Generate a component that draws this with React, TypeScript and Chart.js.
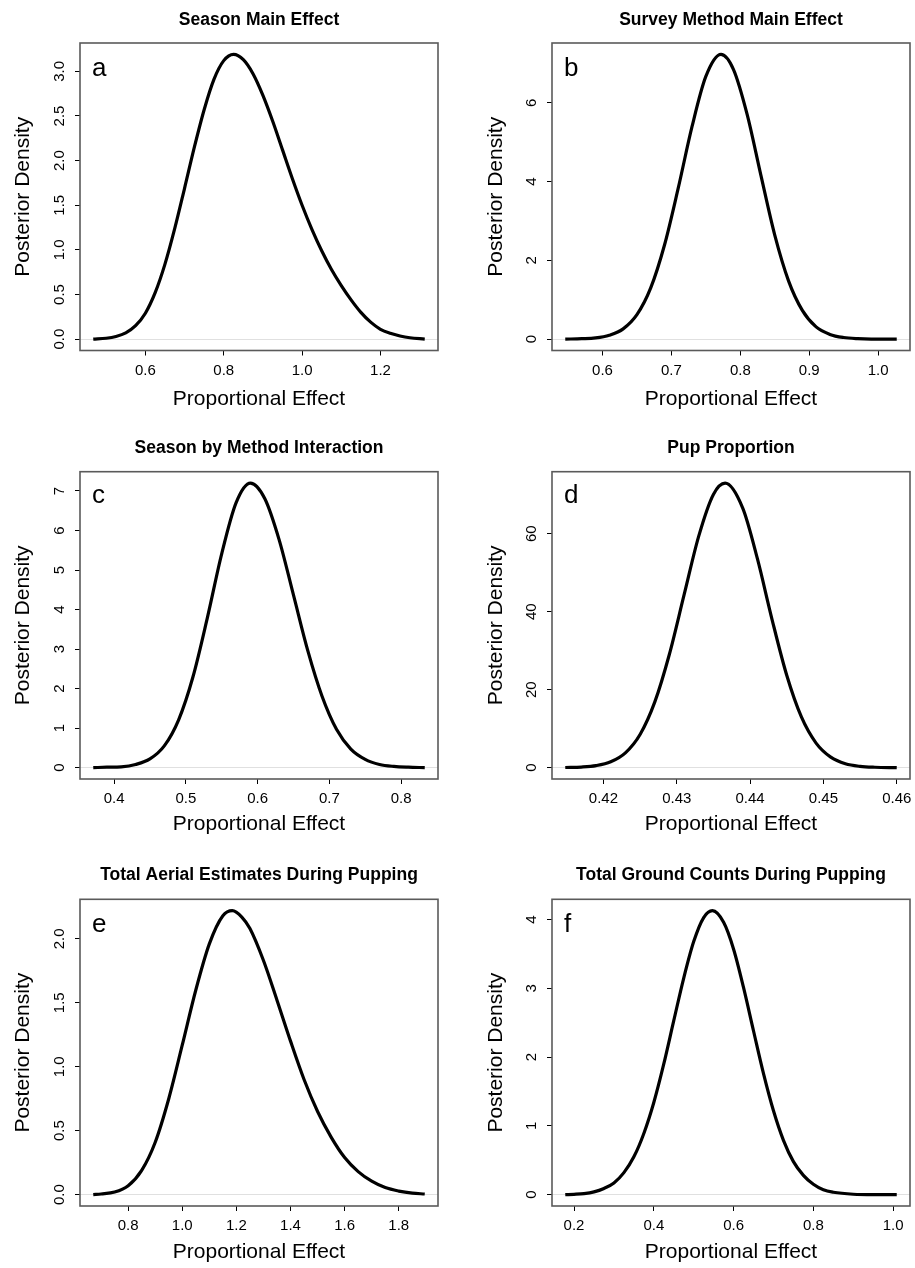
import React, { useEffect, useRef } from "react";
import { Chart, registerables } from "chart.js";

Chart.register(...registerables);

const FONT = '"Liberation Sans", Arial, Helvetica, sans-serif';

// ---------- Data ----------
const titles = [
  "Season Main Effect",
  "Survey Method Main Effect",
  "Season by Method Interaction",
  "Pup Proportion",
  "Total Aerial Estimates During Pupping",
  "Total Ground Counts During Pupping",
];
const panelLetters = ["a", "b", "c", "d", "e", "f"];
const xAxisTitle = "Proportional Effect";
const yAxisTitle = "Posterior Density";

// a: Season Main Effect
const aX = [0.467, 0.5, 0.525, 0.55, 0.575, 0.6, 0.625, 0.65, 0.675, 0.7, 0.725, 0.75, 0.775, 0.8, 0.825, 0.85, 0.875, 0.9, 0.925, 0.95, 0.975, 1.0, 1.025, 1.05, 1.075, 1.1, 1.125, 1.15, 1.175, 1.2, 1.225, 1.25, 1.275, 1.313];
const aY = [0.0, 0.01, 0.03, 0.07, 0.15, 0.29, 0.52, 0.84, 1.24, 1.69, 2.15, 2.57, 2.91, 3.12, 3.19, 3.13, 2.97, 2.73, 2.44, 2.12, 1.8, 1.5, 1.23, 0.99, 0.78, 0.6, 0.44, 0.3, 0.19, 0.11, 0.065, 0.035, 0.015, 0.0];
const aXTicks = [0.6, 0.8, 1.0, 1.2];
const aXLabels = ["0.6", "0.8", "1.0", "1.2"];
const aYTicks = [0, 0.5, 1.0, 1.5, 2.0, 2.5, 3.0];
const aYLabels = ["0.0", "0.5", "1.0", "1.5", "2.0", "2.5", "3.0"];

// b: Survey Method Main Effect
const bX = [0.546, 0.57, 0.59, 0.61, 0.63, 0.65, 0.67, 0.69, 0.71, 0.73, 0.75, 0.772, 0.79, 0.81, 0.83, 0.85, 0.87, 0.89, 0.91, 0.93, 0.95, 0.97, 0.99, 1.027];
const bY = [0.0, 0.01, 0.03, 0.1, 0.26, 0.62, 1.3, 2.39, 3.84, 5.4, 6.67, 7.23, 6.85, 5.7, 4.15, 2.64, 1.48, 0.73, 0.31, 0.12, 0.04, 0.01, 0.0, 0.0];
const bXTicks = [0.6, 0.7, 0.8, 0.9, 1.0];
const bXLabels = ["0.6", "0.7", "0.8", "0.9", "1.0"];
const bYTicks = [0, 2, 4, 6];
const bYLabels = ["0", "2", "4", "6"];

// c: Season by Method Interaction
const cX = [0.371, 0.39, 0.41, 0.43, 0.45, 0.47, 0.49, 0.51, 0.53, 0.55, 0.57, 0.59, 0.61, 0.63, 0.65, 0.67, 0.69, 0.71, 0.73, 0.75, 0.77, 0.79, 0.81, 0.833];
const cY = [0.0, 0.01, 0.02, 0.08, 0.22, 0.55, 1.21, 2.3, 3.79, 5.41, 6.7, 7.2, 6.81, 5.77, 4.37, 2.96, 1.8, 0.97, 0.47, 0.21, 0.08, 0.03, 0.01, 0.0];
const cXTicks = [0.4, 0.5, 0.6, 0.7, 0.8];
const cXLabels = ["0.4", "0.5", "0.6", "0.7", "0.8"];
const cYTicks = [0, 1, 2, 3, 4, 5, 6, 7];
const cYLabels = ["0", "1", "2", "3", "4", "5", "6", "7"];

// d: Pup Proportion
const dX = [0.4148, 0.417, 0.419, 0.421, 0.423, 0.425, 0.427, 0.429, 0.431, 0.433, 0.435, 0.4366, 0.439, 0.441, 0.443, 0.445, 0.447, 0.449, 0.451, 0.453, 0.455, 0.457, 0.46];
const dY = [0.04, 0.16, 0.52, 1.5, 3.8, 8.5, 16.8, 29.1, 44.3, 59.4, 70.1, 73.0, 66.6, 53.6, 38.0, 23.7, 13.0, 6.3, 2.7, 1.0, 0.33, 0.1, 0.01];
const dXTicks = [0.42, 0.43, 0.44, 0.45, 0.46];
const dXLabels = ["0.42", "0.43", "0.44", "0.45", "0.46"];
const dYTicks = [0, 20, 40, 60];
const dYLabels = ["0", "20", "40", "60"];

// e: Total Aerial Estimates During Pupping
const eX = [0.671, 0.7, 0.75, 0.8, 0.85, 0.9, 0.95, 1.0, 1.05, 1.1, 1.15, 1.185, 1.22, 1.25, 1.3, 1.35, 1.4, 1.45, 1.5, 1.55, 1.6, 1.65, 1.7, 1.75, 1.8, 1.85, 1.896];
const eY = [0.0, 0.005, 0.02, 0.07, 0.19, 0.41, 0.75, 1.17, 1.6, 1.96, 2.18, 2.22, 2.17, 2.08, 1.83, 1.52, 1.2, 0.9, 0.65, 0.45, 0.29, 0.18, 0.105, 0.055, 0.028, 0.012, 0.005];
const eXTicks = [0.8, 1.0, 1.2, 1.4, 1.6, 1.8];
const eXLabels = ["0.8", "1.0", "1.2", "1.4", "1.6", "1.8"];
const eYTicks = [0, 0.5, 1.0, 1.5, 2.0];
const eYLabels = ["0.0", "0.5", "1.0", "1.5", "2.0"];

// f: Total Ground Counts During Pupping
const fX = [0.178, 0.2, 0.225, 0.25, 0.275, 0.3, 0.325, 0.35, 0.375, 0.4, 0.425, 0.45, 0.475, 0.5, 0.525, 0.547, 0.575, 0.6, 0.625, 0.65, 0.675, 0.7, 0.725, 0.75, 0.775, 0.8, 0.825, 0.85, 0.9, 0.95, 1.009];
const fY = [0.0, 0.005, 0.015, 0.04, 0.09, 0.17, 0.32, 0.55, 0.89, 1.34, 1.9, 2.53, 3.15, 3.68, 4.03, 4.13, 3.96, 3.57, 3.01, 2.38, 1.76, 1.22, 0.79, 0.48, 0.28, 0.15, 0.07, 0.035, 0.006, 0.0, 0.0];
const fXTicks = [0.2, 0.4, 0.6, 0.8, 1.0];
const fXLabels = ["0.2", "0.4", "0.6", "0.8", "1.0"];
const fYTicks = [0, 1, 2, 3, 4];
const fYLabels = ["0", "1", "2", "3", "4"];

// ---------- Layout (positions / styles) ----------
type Geo = {
  left: number; top: number; width: number; height: number;
  boxLeft: number; boxTop: number; boxRight: number; boxBottom: number;
  xTitlePad: number; yTitlePad: number; yTickPad: number;
  titleOffset: number; letterOffset: number;
};

const geos: Geo[] = [
  { left: 0, top: 0, width: 457, height: 420, boxLeft: 80, boxTop: 43, boxRight: 438, boxBottom: 350.5, xTitlePad: 8.4, yTitlePad: 10.7, yTickPad: 5, titleOffset: 23, letterOffset: 33 },
  { left: 457, top: 0, width: 458, height: 420, boxLeft: 552, boxTop: 43, boxRight: 910, boxBottom: 350.5, xTitlePad: 8.4, yTitlePad: 27.1, yTickPad: 11, titleOffset: 23, letterOffset: 33 },
  { left: 0, top: 420, width: 457, height: 420, boxLeft: 80, boxTop: 471.7, boxRight: 438, boxBottom: 779, xTitlePad: 2.7, yTitlePad: 10.7, yTickPad: 11, titleOffset: 23.4, letterOffset: 31 },
  { left: 457, top: 420, width: 458, height: 420, boxLeft: 552, boxTop: 471.7, boxRight: 910, boxBottom: 779, xTitlePad: 2.7, yTitlePad: 27.1, yTickPad: 7, titleOffset: 23.4, letterOffset: 31 },
  { left: 0, top: 840, width: 457, height: 428, boxLeft: 80, boxTop: 899.3, boxRight: 438, boxBottom: 1206, xTitlePad: 3.6, yTitlePad: 10.7, yTickPad: 5, titleOffset: 24.3, letterOffset: 33 },
  { left: 457, top: 840, width: 458, height: 428, boxLeft: 552, boxTop: 899.3, boxRight: 910, boxBottom: 1206, xTitlePad: 3.6, yTitlePad: 27.1, yTickPad: 11, titleOffset: 24.3, letterOffset: 33 },
];

const series = [
  { x: aX, y: aY, xt: aXTicks, xl: aXLabels, yt: aYTicks, yl: aYLabels },
  { x: bX, y: bY, xt: bXTicks, xl: bXLabels, yt: bYTicks, yl: bYLabels },
  { x: cX, y: cY, xt: cXTicks, xl: cXLabels, yt: cYTicks, yl: cYLabels },
  { x: dX, y: dY, xt: dXTicks, xl: dXLabels, yt: dYTicks, yl: dYLabels },
  { x: eX, y: eY, xt: eXTicks, xl: eXLabels, yt: eYTicks, yl: eYLabels },
  { x: fX, y: fY, xt: fXTicks, xl: fXLabels, yt: fYTicks, yl: fYLabels },
];

function Panel({ idx }: { idx: number }) {
  const ref = useRef<HTMLCanvasElement>(null);
  const g = geos[idx];
  useEffect(() => {
    const s = series[idx];
    const canvas = ref.current as HTMLCanvasElement;
    const xmin = Math.min(...s.x);
    const xmax = Math.max(...s.x);
    const ymin = Math.min(...s.y);
    const ymax = Math.max(...s.y);
    const xpad = (xmax - xmin) * 0.04;
    const ypad = (ymax - ymin) * 0.04;

    const framePlugin = {
      id: "frame" + idx,
      afterDraw(chart: any) {
        const { ctx, chartArea: a } = chart;
        ctx.save();
        ctx.strokeStyle = "#5a5a5a";
        ctx.lineWidth = 1.6;
        ctx.strokeRect(a.left, a.top, a.right - a.left, a.bottom - a.top);
        ctx.fillStyle = "#000";
        ctx.font = `bold 17.5px ${FONT}`;
        ctx.textAlign = "center";
        ctx.textBaseline = "middle";
        ctx.fillText(titles[idx], (a.left + a.right) / 2, a.top - g.titleOffset);
        ctx.font = `26px ${FONT}`;
        ctx.textAlign = "left";
        ctx.textBaseline = "alphabetic";
        ctx.fillText(panelLetters[idx], a.left + 12, a.top + g.letterOffset);
        ctx.restore();
      },
    };

    const chart = new Chart(canvas, {
      type: "line",
      data: {
        datasets: [
          {
            data: s.x.map((x, i) => ({ x, y: s.y[i] })),
            borderColor: "#000",
            borderWidth: 3.2,
            pointRadius: 0,
            fill: false,
            cubicInterpolationMode: "monotone",
          },
        ],
      },
      options: {
        animation: false,
        responsive: false,
        devicePixelRatio: 1,
        layout: {
          padding: {
            top: g.boxTop - g.top,
            left: 0,
            right: g.left + g.width - g.boxRight,
            bottom: 0,
          },
        },
        plugins: {
          legend: { display: false },
          tooltip: { enabled: false },
          title: { display: false },
        },
        scales: {
          x: {
            type: "linear",
            position: "bottom",
            min: xmin - xpad,
            max: xmax + xpad,
            afterBuildTicks: (sc: any) => {
              sc.ticks = s.xt.map((v) => ({ value: v }));
            },
            afterFit: (sc: any) => {
              sc.height = g.top + g.height - g.boxBottom;
              sc.paddingLeft = 0;
              sc.paddingRight = 0;
              sc.paddingTop = 0;
              sc.paddingBottom = 0;
            },
            ticks: {
              callback: (_v: any, i: number) => s.xl[i],
              font: { family: FONT, size: 15 },
              color: "#000",
              padding: 6,
              maxRotation: 0,
              minRotation: 0,
              autoSkip: false,
            },
            grid: {
              display: true,
              drawOnChartArea: false,
              drawTicks: true,
              tickLength: 5,
              tickColor: "#000",
              tickWidth: 1,
            },
            border: { display: false },
            title: {
              display: true,
              text: xAxisTitle,
              font: { family: FONT, size: 21 },
              color: "#000",
              padding: { top: 0, bottom: g.xTitlePad },
            },
          },
          y: {
            type: "linear",
            position: "left",
            min: ymin - ypad,
            max: ymax + ypad,
            afterBuildTicks: (sc: any) => {
              sc.ticks = s.yt.map((v) => ({ value: v }));
            },
            afterFit: (sc: any) => {
              sc.width = g.boxLeft - g.left;
              sc.paddingLeft = 0;
              sc.paddingRight = 0;
              sc.paddingTop = 0;
              sc.paddingBottom = 0;
            },
            ticks: {
              callback: (_v: any, i: number) => s.yl[i],
              font: { family: FONT, size: 15 },
              color: "#000",
              padding: g.yTickPad,
              minRotation: 90,
              maxRotation: 90,
              crossAlign: "center",
              autoSkip: false,
            },
            grid: {
              display: true,
              drawOnChartArea: true,
              drawTicks: true,
              tickLength: 5,
              tickColor: "#000",
              tickWidth: 1,
              lineWidth: 1,
              color: (ctx: any) =>
                ctx.tick && ctx.tick.value === 0 ? "#e0e0e0" : "rgba(0,0,0,0)",
            },
            border: { display: false },
            title: {
              display: true,
              text: yAxisTitle,
              font: { family: FONT, size: 21 },
              color: "#000",
              padding: { top: g.yTitlePad, bottom: 0 },
            },
          },
        },
      } as any,
      plugins: [framePlugin],
    });
    return () => chart.destroy();
  }, [idx]);
  return (
    <canvas
      ref={ref}
      width={g.width}
      height={g.height}
      style={{ position: "absolute", left: g.left, top: g.top, width: g.width, height: g.height }}
    />
  );
}

export default function App() {
  return (
    <div
      style={{
        position: "fixed",
        left: 0,
        top: 0,
        width: 915,
        height: 1268,
        background: "#fff",
        overflow: "hidden",
      }}
    >
      {[0, 1, 2, 3, 4, 5].map((i) => (
        <Panel key={i} idx={i} />
      ))}
    </div>
  );
}
